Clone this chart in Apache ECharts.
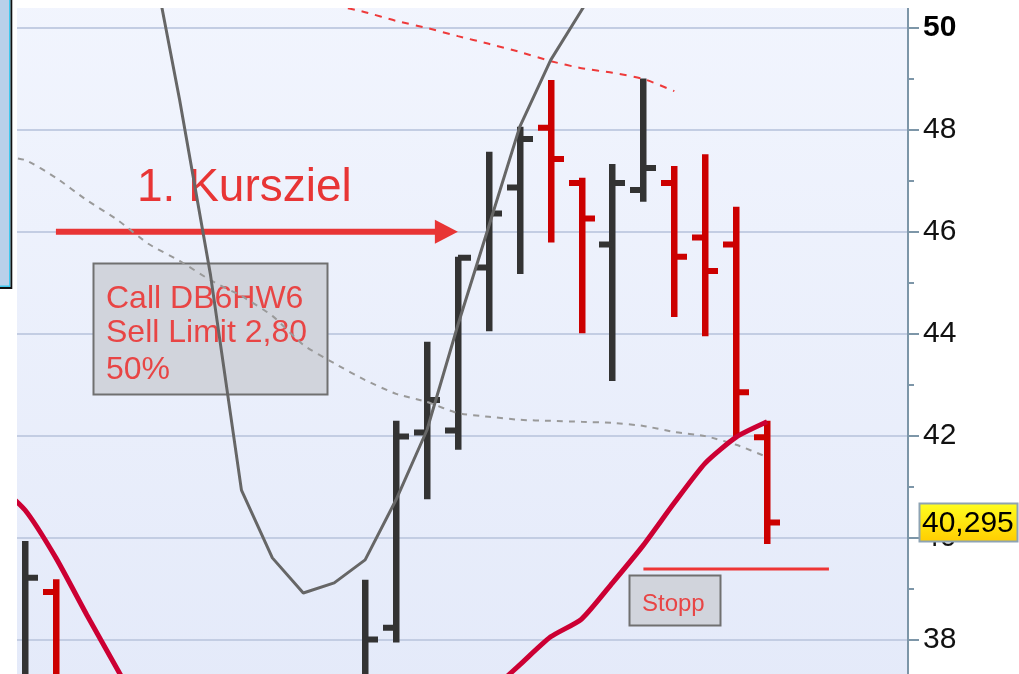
<!DOCTYPE html>
<html>
<head>
<meta charset="utf-8">
<script src="https://cdn.jsdelivr.net/npm/echarts@6/dist/echarts.min.js"></script>
<style>
html,body{margin:0;padding:0;background:#fff;overflow:hidden;width:1019px;height:674px;position:relative;}
#chart{position:absolute;left:0;top:-80px;width:1019px;height:830px;}
</style>
</head>
<body>
<div id="chart"></div>
<script>
// ---- data ----
const barPos = [0,1,2,3,4,5,6,7,8,9,10,11,12,13,14,15,16,17,18,19,20,21,22,23,24];
const opens  = [37.10,38.93,null,null,null,null,null,null,null,null,null,37.20,38.23,42.06,42.10,45.30,46.87,48.04,46.96,45.75,46.82,46.96,45.89,45.75,41.97];
const highs  = [39.93,39.18,null,null,null,null,null,null,null,null,null,39.17,42.29,43.84,45.51,47.57,48.06,48.98,47.06,47.33,49.01,47.29,47.52,46.49,42.29];
const lows   = [36.90,36.80,null,null,null,null,null,null,null,null,null,37.00,37.94,40.75,41.72,44.05,45.17,45.79,44.01,43.07,46.59,44.33,43.95,41.98,39.87];
const closes = [39.21,37.10,null,null,null,null,null,null,null,null,null,38.00,41.98,42.70,45.49,46.36,47.82,47.43,46.26,46.96,47.25,45.51,45.23,42.85,40.295];

const linePos    = [-1,0,1,2,3,4,5,6,7,8,9,10,11,12,13,14,15,16,17,18,19,20,21,22,23,24];
const redMA      = [41.10,40.54,39.60,38.48,37.40,36.30,null,null,null,null,null,null,null,null,null,null,36.95,37.50,38.05,38.40,39.11,39.85,40.68,41.46,41.97,42.27];
const graySolid  = [null,null,null,null,null,51.75,48.59,45.15,40.93,39.60,38.91,39.11,39.56,40.74,42.11,44.17,46.11,48.06,49.37,50.35,51.30,null,null,null,null,null];
const grayDashed = [47.50,47.41,47.06,46.62,46.23,45.76,45.43,45.05,44.74,44.35,43.78,43.42,43.09,42.82,42.66,42.44,42.37,42.31,42.29,42.27,42.25,42.19,42.07,41.99,41.82,41.58];
const redDashed  = [null,null,null,null,null,null,null,null,null,null,null,50.45,50.31,50.14,50.00,49.84,49.69,49.53,49.35,49.21,49.12,49.00,48.76,null,null,null];

const yTickLabels = [38,40,42,44,46,48,50];
const kursziel = {level: 46, from: 1, to: 14, text: '1. Kursziel'};
const stopp    = {level: 39.38, from: 20, to: 26, text: 'Stopp'};
const noteLines = ['Call DB6HW6', 'Sell Limit 2,80', '50%'];

// ---- build ----
const OFF = 80; // chart container is shifted up by this many pixels
const Y = y => y + OFF;

const ohlcData = [];
barPos.forEach((p, i) => {
  if (opens[i] != null) ohlcData.push([p, opens[i], closes[i], lows[i], highs[i]]);
});
const pair = (arr) => linePos.map((p, i) => [p, arr[i] == null ? '-' : arr[i]]);

const FONT = "'Liberation Sans', Arial, sans-serif";
const chart = echarts.init(document.getElementById('chart'), null, {renderer: 'canvas'});

function renderOHLC(params, api) {
  const x = api.value(0), o = api.value(1), c = api.value(2), l = api.value(3), h = api.value(4);
  const pH = api.coord([x, h]), pL = api.coord([x, l]), pO = api.coord([x, o]), pC = api.coord([x, c]);
  const color = c >= o ? '#333333' : '#cc0000';
  const cx = Math.round(pH[0]);
  return {type: 'group', children: [
    {type: 'rect', shape: {x: cx - 3, y: pH[1], width: 6.5, height: pL[1] - pH[1]}, style: {fill: color}},
    {type: 'rect', shape: {x: cx - 13, y: pO[1] - 3, width: 13, height: 6}, style: {fill: color}},
    {type: 'rect', shape: {x: cx, y: pC[1] - 3, width: 13, height: 6}, style: {fill: color}}
  ]};
}

function renderArrow(params, api) {
  const p1 = api.coord([api.value(0), api.value(2)]);
  const p2 = api.coord([api.value(1), api.value(2)]);
  const y = p1[1];
  return {type: 'group', children: [
    {type: 'rect', shape: {x: p1[0], y: y - 3, width: p2[0] - 22 - p1[0], height: 6}, style: {fill: '#e83535'}},
    {type: 'polygon', shape: {points: [[p2[0] - 23, y - 12], [p2[0], y], [p2[0] - 23, y + 12]]}, style: {fill: '#e83535'}}
  ]};
}

chart.setOption({
  animation: false,
  backgroundColor: '#ffffff',
  grid: {
    left: 17, right: 111, top: 6.1, bottom: 8.7,
    show: true, borderWidth: 0,
    backgroundColor: new echarts.graphic.LinearGradient(0, 0, 0, 1, [
      {offset: 0, color: '#f3f6fe'}, {offset: 1, color: '#e3e9f9'}
    ])
  },
  xAxis: {type: 'value', min: -0.2587, max: 28.557, show: false},
  yAxis: {
    type: 'value', position: 'right', min: 36, max: 52, interval: 2,
    axisLine: {show: true, onZero: false, lineStyle: {color: '#7d96a8', width: 2}},
    axisTick: {show: true, length: 11, lineStyle: {color: '#7d96a8', width: 2}},
    minorTick: {show: true, splitNumber: 2, length: 6, lineStyle: {color: '#7d96a8', width: 2}},
    splitLine: {show: true, lineStyle: {color: '#c3cde3', width: 2}},
    axisLabel: {
      fontSize: 30, color: '#111', margin: 15, fontFamily: FONT,
      formatter: v => yTickLabels.indexOf(v) < 0 ? '' : (v === 50 ? '{b|' + v + '}' : String(v)),
      rich: {b: {fontSize: 30, fontWeight: 'bold', color: '#000', fontFamily: FONT}}
    }
  },
  series: [
    {type: 'custom', name: 'OHLC', renderItem: renderOHLC, data: ohlcData, encode: {x: 0, y: [1, 2, 3, 4]}, clip: true, z: 3},
    {type: 'line', name: 'MA dashed gray', data: pair(grayDashed), showSymbol: false, symbol: 'none', smooth: 0.2,
      lineStyle: {color: '#9a9a9a', width: 2, type: [6, 6]}, z: 4},
    {type: 'line', name: 'MA dashed red', data: pair(redDashed), showSymbol: false, symbol: 'none', smooth: 0.2,
      lineStyle: {color: '#ee3a3a', width: 2, type: [7, 7]}, z: 4},
    {type: 'line', name: 'Indicator', data: pair(graySolid), showSymbol: false, symbol: 'none',
      lineStyle: {color: '#666666', width: 3}, z: 4},
    {type: 'line', name: 'MA red', data: pair(redMA), showSymbol: false, symbol: 'none', smooth: 0.2,
      lineStyle: {color: '#cc0033', width: 5}, z: 4},
    {type: 'line', name: 'Stopp', data: [[stopp.from, stopp.level], [stopp.to, stopp.level]], showSymbol: false, symbol: 'none',
      lineStyle: {color: '#ee3535', width: 3}, z: 4},
    {type: 'custom', name: 'Kursziel', renderItem: renderArrow, data: [[kursziel.from, kursziel.to, kursziel.level]],
      encode: {x: [0, 1], y: 2}, z: 4}
  ]
});

const lastClose = closes[closes.length - 1];
const yLast = chart.convertToPixel({yAxisIndex: 0}, lastClose);

chart.setOption({
  graphic: [
    // white strips above and left of the plot
    {type: 'rect', z: 50, shape: {x: 11, y: 0, width: 905, height: Y(8)}, style: {fill: '#ffffff'}},
    {type: 'rect', z: 50, shape: {x: 0, y: 0, width: 17, height: Y(674)}, style: {fill: '#ffffff'}},
    // left frame box
    {type: 'rect', z: 51, shape: {x: 0, y: Y(0), width: 10, height: 286}, style: {fill: '#b9d0ea'}},
    {type: 'rect', z: 51, shape: {x: 9, y: Y(0), width: 1.5, height: 287}, style: {fill: '#3fc8ee'}},
    {type: 'rect', z: 51, shape: {x: 0, y: Y(285.5), width: 10, height: 1.5}, style: {fill: '#3fc8ee'}},
    {type: 'rect', z: 51, shape: {x: 10.5, y: Y(0), width: 1.8, height: 289}, style: {fill: '#111'}},
    {type: 'rect', z: 51, shape: {x: 0, y: Y(287), width: 12, height: 2}, style: {fill: '#111'}},
    // Kursziel text
    {type: 'text', z: 1, x: 137, y: Y(188), style: {text: kursziel.text, font: '46px ' + FONT, fill: '#e83535', verticalAlign: 'middle'}},
    // Call note box
    {type: 'rect', z: 1, shape: {x: 93.5, y: Y(263.5), width: 234, height: 131}, style: {fill: '#d1d4dc', stroke: '#707070', lineWidth: 2}},
    {type: 'text', z: 1, x: 106, y: Y(299), style: {text: noteLines[0], font: '32px ' + FONT, fill: '#e84545', verticalAlign: 'middle'}},
    {type: 'text', z: 1, x: 106, y: Y(333), style: {text: noteLines[1], font: '32px ' + FONT, fill: '#e84545', verticalAlign: 'middle'}},
    {type: 'text', z: 1, x: 106, y: Y(370), style: {text: noteLines[2], font: '32px ' + FONT, fill: '#e84545', verticalAlign: 'middle'}},
    // Stopp box
    {type: 'rect', z: 1, shape: {x: 629.5, y: Y(575.5), width: 91, height: 50}, style: {fill: '#d1d4dc', stroke: '#707070', lineWidth: 2}},
    {type: 'text', z: 1, x: 642, y: Y(604), style: {text: stopp.text, font: '24px ' + FONT, fill: '#e84545', verticalAlign: 'middle'}},
    // last price label
    {type: 'rect', z: 100, shape: {x: 919.5, y: yLast - 19, width: 98, height: 38},
      style: {fill: new echarts.graphic.LinearGradient(0, 0, 0, 1, [{offset: 0, color: '#ffff20'}, {offset: 1, color: '#ffcc00'}]), stroke: '#8ea3b3', lineWidth: 2}},
    {type: 'text', z: 101, x: 922, y: yLast + 1, style: {text: lastClose.toFixed(3).replace('.', ','), font: '30px ' + FONT, fill: '#000', verticalAlign: 'middle'}}
  ]
});
</script>
</body>
</html>
